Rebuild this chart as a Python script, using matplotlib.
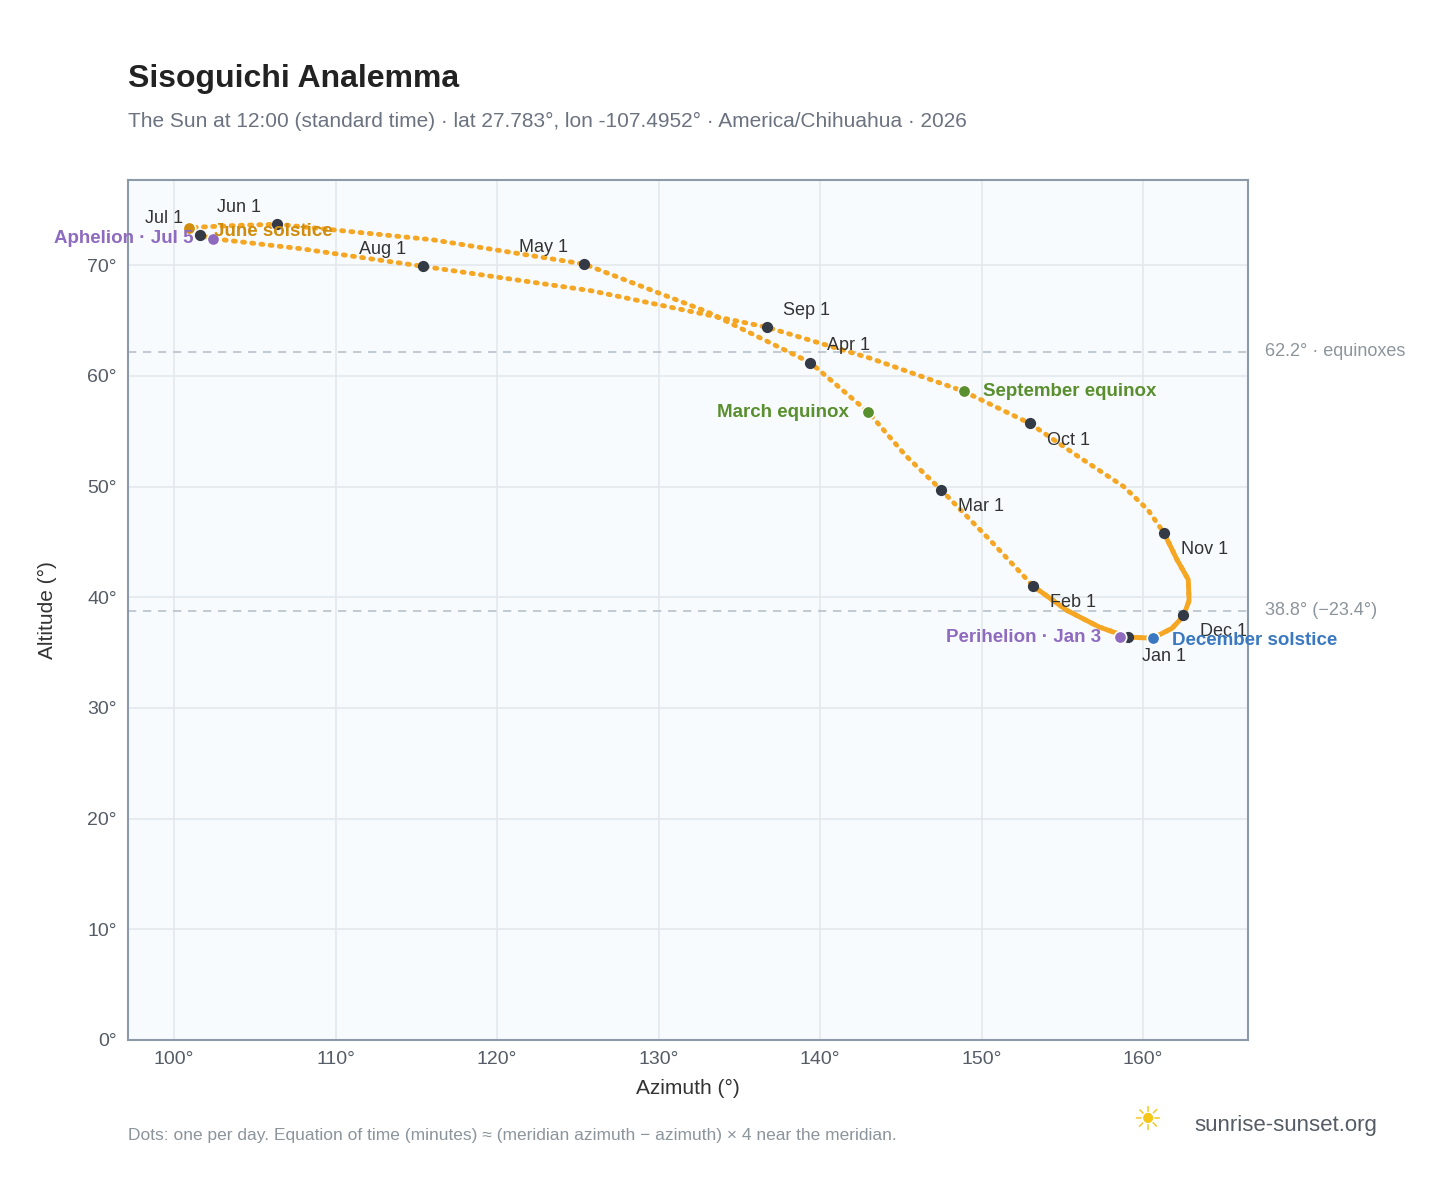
import matplotlib
matplotlib.use("Agg")
import matplotlib.pyplot as plt

plt.rcParams['font.family'] = ['Liberation Sans', 'DejaVu Sans']

# Path of the sun at noon (date order, Jan 1 -> Dec 31)
path_az = [159.07, 157.3, 155.3, 153.2, 150.5, 147.5, 145.3, 143.0, 139.4, 133.0, 125.4, 116.0, 106.4, 104.0,
           100.9, 101.6, 102.4, 107.8, 115.4, 125.8, 136.7, 143.1, 148.9, 153.0, 155.9, 158.8, 160.3, 161.3,
           162.1, 162.8, 162.85, 162.5, 161.8, 160.6, 159.07]
path_alt = [36.4, 37.3, 38.8, 41.0, 45.2, 49.7, 52.8, 56.7, 61.2, 65.8, 70.1, 72.3, 73.7, 73.6,
            73.4, 72.7, 72.4, 71.5, 69.9, 67.7, 64.4, 61.6, 58.6, 55.7, 52.8, 50.0, 47.9, 45.8,
            43.4, 41.6, 39.7, 38.3, 37.2, 36.3, 36.4]

months = ["Jan 1", "Feb 1", "Mar 1", "Apr 1", "May 1", "Jun 1", "Jul 1", "Aug 1", "Sep 1", "Oct 1", "Nov 1", "Dec 1"]
month_az = [159.07, 153.2, 147.5, 139.4, 125.4, 106.4, 101.6, 115.4, 136.7, 153.0, 161.3, 162.5]
month_alt = [36.4, 41.0, 49.7, 61.2, 70.1, 73.7, 72.7, 69.9, 64.4, 55.7, 45.8, 38.4]
month_off = [(10, -14), (12, -12), (12, -12), (12, 12), (-12, 12), (-12, 12), (-12, 12), (-12, 12), (12, 12), (12, -12), (12, -12), (12, -12)]

events = ["March equinox", "June solstice", "September equinox", "December solstice", "Perihelion · Jan 3", "Aphelion · Jul 5"]
event_az = [143.0, 100.9, 148.9, 160.6, 158.6, 102.4]
event_alt = [56.7, 73.4, 58.6, 36.3, 36.4, 72.4]
event_col = ["#5a8f2e", "#d08c0c", "#5a8f2e", "#3a78c2", "#8e6bbf", "#8e6bbf"]
event_off = [(-14, 0), (18, -3), (14, 0), (14, -2), (-14, 0), (-14, 0)]
event_ha = ["right", "left", "left", "left", "right", "right"]

equinox_alt = 62.2
solstice_alt = 38.8

fig = plt.figure(figsize=(14.48, 11.88), dpi=100)
ax = fig.add_axes([0.0884, 0.1246, 0.7735, 0.7239])
ax.set_facecolor("#f8fbfe")
ax.set_xlim(97.15, 166.5)
ax.set_ylim(0, 77.7)
ax.set_xticks(range(100, 161, 10))
ax.set_xticklabels([f"{v}°" for v in range(100, 161, 10)])
ax.set_yticks(range(0, 71, 10))
ax.set_yticklabels([f"{v}°" for v in range(0, 71, 10)])
ax.grid(color="#e3e8ee", lw=1.2)
ax.set_axisbelow(True)
for s in ax.spines.values():
    s.set_color("#8c99a8"); s.set_linewidth(1.5)
ax.tick_params(colors="#555c66", labelsize=14, length=0, pad=8)
ax.set_xlabel("Azimuth (°)", fontsize=15, color="#333", labelpad=8)
ax.set_ylabel("Altitude (°)", fontsize=15, color="#333", labelpad=22)

for y, lab in [(equinox_alt, "62.2° · equinoxes"), (solstice_alt, "38.8° (−23.4°)")]:
    ax.axhline(y, color="#b8c2cc", ls=(0, (5, 4)), lw=1.2)
    ax.annotate(lab, (1, y), xycoords=("axes fraction", "data"), xytext=(12, 0), textcoords="offset points",
                va="center", fontsize=13, color="#8c949c", annotation_clip=False)

ax.plot(path_az, path_alt, color="#f5a623", lw=3.5, ls=(0, (0.4, 1.5)), dash_capstyle="round", zorder=3)
# dense winter section appears solid
ax.plot(path_az[27:] + path_az[:4], path_alt[27:] + path_alt[:4], color="#f5a623", lw=3.5,
        solid_capstyle="round", solid_joinstyle="round", zorder=3)
ax.scatter(month_az, month_alt, s=50, color="#333a45", zorder=5)
for n, x, y, (dx, dy) in zip(months, month_az, month_alt, month_off):
    ax.annotate(n, (x, y), xytext=(dx, dy), textcoords="offset points", fontsize=13, color="#333",
                ha="left" if dx > 0 else "right", va="center")
for n, x, y, c, (dx, dy), ha in zip(events, event_az, event_alt, event_col, event_off, event_ha):
    ax.scatter([x], [y], s=80, color=c, edgecolor="white", lw=1.2, zorder=6)
    ax.annotate(n, (x, y), xytext=(dx, dy), textcoords="offset points", fontsize=13.5, color=c,
                fontweight="bold", ha=ha, va="center", zorder=7)

fig.text(0.0884, 0.927, "Sisoguichi Analemma", fontsize=23, fontweight="bold", color="#222")
fig.text(0.0884, 0.893, "The Sun at 12:00 (standard time) · lat 27.783°, lon -107.4952° · America/Chihuahua · 2026",
         fontsize=15, color="#6b7280")
fig.text(0.0884, 0.040, "Dots: one per day. Equation of time (minutes) ≈ (meridian azimuth − azimuth) × 4 near the meridian.",
         fontsize=12.5, color="#8c949c")
fig.text(0.951, 0.053, "sunrise-sunset.org", fontsize=16, color="#555c66", ha="right", va="center")
fig.text(0.792, 0.056, "☀", fontsize=24, color="#f5c518", ha="center", va="center", family="DejaVu Sans")
fig.savefig("out.png", dpi=100, facecolor="white")
